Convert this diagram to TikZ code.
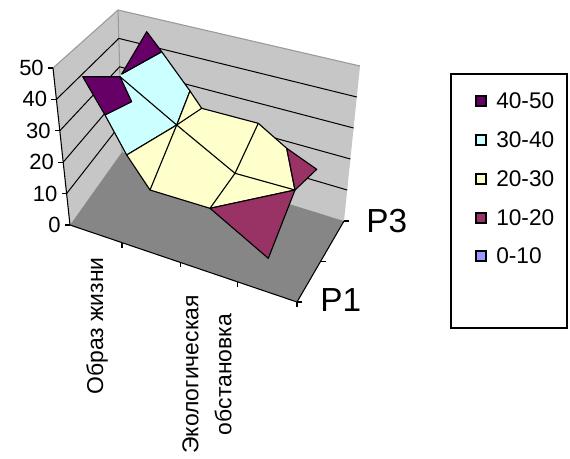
\documentclass[tikz,border=0pt]{standalone}
\usepackage{fontspec}
\setmainfont{Liberation Sans}
\usetikzlibrary{calc}
\definecolor{cpurple}{HTML}{660066}
\definecolor{ccyan}{HTML}{CCFFFF}
\definecolor{cyellow}{HTML}{FFFFCC}
\definecolor{cmaroon}{HTML}{993366}
\definecolor{cblue}{HTML}{9999FF}
\definecolor{wallgray}{HTML}{C6C6C6}
\definecolor{walledge}{HTML}{9A9A9A}
\definecolor{floorgray}{HTML}{868686}
\tikzset{
  gridln/.style={black, line width=0.75pt},
  axisln/.style={black, line width=0.8pt},
  patch/.style={draw=black, line width=0.85pt, line join=round},
  mesh/.style={black, line width=0.85pt},
  numlbl/.style={font=\fontsize{16.5}{19}\selectfont, anchor=east, inner sep=0pt},
  catlbl/.style={font=\fontsize{17.2}{24.75}\selectfont, rotate=90, anchor=east, align=center, inner sep=0pt},
  serlbl/.style={font=\fontsize{25}{30}\selectfont, anchor=west, inner sep=0pt},
  legsq/.style={draw=black, line width=0.8pt, minimum size=7.5pt, inner sep=0pt},
  legtxt/.style={font=\fontsize{17}{19}\selectfont, anchor=west, inner sep=0pt}
}
\begin{document}
\begin{tikzpicture}[x=0.75pt,y=-0.75pt]
\useasboundingbox[fill=white] (0,0) rectangle (570,458);
% frame corners
\coordinate (FLB) at (70,225);
\coordinate (FLT) at (53,68);
\coordinate (BLT) at (118,10);
\coordinate (BLB) at (122,152);
\coordinate (BRT) at (360,66);
\coordinate (BRB) at (344,221);
\coordinate (FRB) at (297,302);
% walls and floor
\fill[wallgray] (FLB) -- (FLT) -- (BLT) -- (BLB) -- cycle;
\fill[wallgray] (BLB) -- (BLT) -- (BRT) -- (BRB) -- cycle;
\fill[floorgray] (FLB) -- (BLB) -- (BRB) -- (FRB) -- cycle;
\draw[walledge, line width=0.8pt] (FLT) -- (BLT) -- (BRT);
\draw[walledge, line width=0.8pt] (BLT) -- (BLB);
% gridlines
\foreach \k in {1,2,3,4} {
  \draw[gridln] ($(FLB)!\k/5!(FLT)$) -- ($(BLB)!\k/5!(BLT)$) -- ($(BRB)!\k/5!(BRT)$);
}
% value axis
\draw[axisln] (FLB) -- (FLT);
\foreach \k/\v in {0/0,1/10,2/20,3/30,4/40,5/50} {
  \coordinate (vt\k) at ($(FLB)!\k/5!(FLT)$);
  \draw[axisln] (vt\k) -- ++(-5,0);
  \node[numlbl] (vl\k) at ($(vt\k)+(-9,0)$) {\v};
}
% category axis
\draw[axisln] (FLB) -- (FRB);
\foreach \t/\n in {0.229/1,0.485/2,0.736/3,1/4} {
  \coordinate (ct\n) at ($(FLB)!\t!(FRB)$);
  \draw[axisln] (ct\n) -- ++(0,5);
}
% series axis
\draw[axisln] (FRB) -- (BRB);
\foreach \t/\n in {0/1,0.5/2,1/3} {
  \coordinate (st\n) at ($(FRB)!\t!(BRB)$);
  \draw[axisln] (st\n) -- ++(5,0);
}
% surface
\coordinate (p1) at (146.7,31.7);
\coordinate (p2) at (161.7,51.7);
\coordinate (p3) at (121.7,74);
\coordinate (q1) at (82.7,76.7);
\coordinate (q2) at (120,76.7);
\coordinate (q3) at (131.7,101.7);
\coordinate (q4) at (105,115);
\coordinate (c1) at (190,91);
\coordinate (c2) at (176.7,125);
\coordinate (c3) at (126.7,155);
\coordinate (y1) at (201.7,108.3);
\coordinate (y2) at (258.3,123.3);
\coordinate (y3) at (286.7,148.3);
\coordinate (y4) at (295,190);
\coordinate (y5) at (210,208.3);
\coordinate (y6) at (150,190);
\coordinate (ym) at (235,173.3);
\coordinate (m1) at (316.7,169.3);
\coordinate (m2) at (268.3,258.3);
\fill[ccyan] (p3) -- (p2) -- (c1) -- (c2) -- (c3) -- (q4) -- (q3) -- (q2) -- cycle;
\draw[patch] (p3) -- (p2) -- (c1) -- (c2) -- (c3) -- (q4);
\draw[patch, fill=cpurple] (p1) -- (p2) -- (p3) -- cycle;
\draw[patch, fill=cpurple] (q1) -- (q2) -- (q3) -- (q4) -- cycle;
\draw[mesh] (q2) -- (c2);
\draw[patch, fill=cyellow] (c1) -- (y1) -- (y2) -- (y3) -- (y4) -- (y5) -- (y6) -- (c3) -- (c2) -- cycle;
\draw[mesh] (c2) -- (y1);
\draw[mesh] (c2) -- (y6);
\draw[mesh] (c2) -- (ym);
\draw[mesh] (ym) -- (y2);
\draw[mesh] (ym) -- (y5);
\draw[mesh] (ym) -- (y4);
\draw[patch, fill=cmaroon] (y3) -- (m1) -- (y4) -- cycle;
\draw[patch, fill=cmaroon] (y5) -- (y4) -- (m2) -- cycle;
% labels
\node[catlbl] (cat1) at (97,257) {Образ жизни};
\node[catlbl] (cat3) at (207,295) {Экологическая\\обстановка};
\node[serlbl] (ser1) at (320,300) {P1};
\node[serlbl] (ser3) at (366,221) {P3};
% legend
\draw[black, line width=1pt] (451,74) rectangle (567,328);
\foreach \c/\t/\y/\i in {cpurple/40-50/101/1, ccyan/30-40/140/2, cyellow/20-30/179/3, cmaroon/10-20/218/4, cblue/0-10/256/5} {
  \node[legsq, fill=\c] (lsq\i) at (481,\y) {};
  \node[legtxt] (ltx\i) at (496,\y) {\t};
}
\end{tikzpicture}
\end{document}
